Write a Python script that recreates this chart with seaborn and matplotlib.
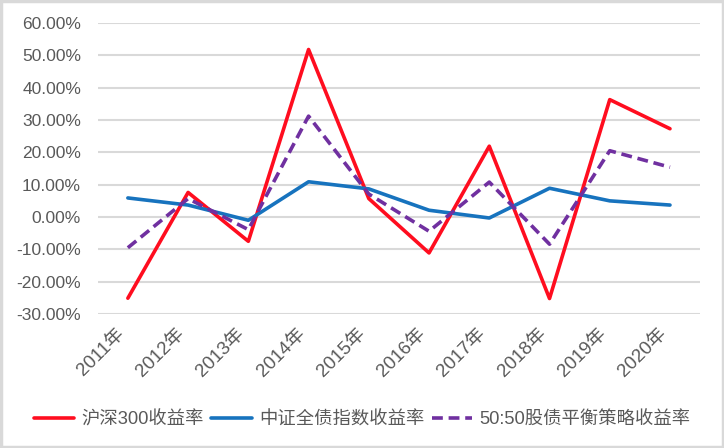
import matplotlib
matplotlib.use("Agg")
import matplotlib.pyplot as plt
import seaborn as sns
import pandas as pd
from matplotlib.ticker import FuncFormatter
from matplotlib.patches import Rectangle
from matplotlib.lines import Line2D

years = ["2011年", "2012年", "2013年", "2014年", "2015年", "2016年", "2017年", "2018年", "2019年", "2020年"]
hs300 = [-25.1, 7.6, -7.5, 51.8, 5.7, -11.1, 21.9, -25.2, 36.3, 27.3]
bond = [5.9, 3.7, -1.0, 10.9, 8.7, 2.1, -0.3, 8.9, 5.0, 3.7]
balanced = [-9.5, 5.7, -3.9, 31.2, 7.1, -4.4, 10.8, -8.4, 20.5, 15.4]
names = ["沪深300收益率", "中证全债指数收益率", "50:50股债平衡策略收益率"]

sns.set_theme(style="white")
plt.rcParams['font.family'] = ['Liberation Sans', 'Noto Sans CJK SC', 'DejaVu Sans']

df = pd.DataFrame({"year": years * 3,
                   "x": list(range(len(years))) * 3,
                   "value": hs300 + bond + balanced,
                   "series": [names[0]] * 10 + [names[1]] * 10 + [names[2]] * 10})

fig = plt.figure(figsize=(7.24, 4.48), dpi=100)
ax = fig.add_axes([0.135, 0.299, 0.832, 0.6497])

palette = {names[0]: "#FF0D1F", names[1]: "#1773BE", names[2]: "#7030A0"}
dashes = {names[0]: "", names[1]: "", names[2]: (3, 1.6)}
sns.lineplot(data=df, x="x", y="value", hue="series", style="series",
             palette=palette, dashes=dashes, linewidth=2.6, ax=ax, legend=False,
             hue_order=names, style_order=names)

ax.set_xlim(-0.5, 9.5)
ax.set_ylim(-30, 60)
ax.set_yticks(range(-30, 61, 10))
ax.yaxis.set_major_formatter(FuncFormatter(lambda v, p: f"{v:.2f}%"))
ax.set_xticks(range(len(years)))
ax.set_xticklabels(years, rotation=45, ha="right")
ax.grid(axis="y", color="#D9D9D9", linewidth=1.5)
ax.set_axisbelow(True)
for s in ax.spines.values():
    s.set_visible(False)
ax.set_xlabel("")
ax.set_ylabel("")
ax.tick_params(axis="y", labelsize=12.5, labelcolor="#595959", length=0, pad=12)
ax.tick_params(axis="x", labelsize=13.5, labelcolor="#595959", length=0, pad=8)

hl = [Line2D([], [], color=palette[n], linewidth=2.6,
             linestyle=("-" if i < 2 else (0, (3, 1.6)))) for i, n in enumerate(names)]
leg = fig.legend(hl, names, loc="center", bbox_to_anchor=(0.5, 1 - 420 / 448),
                 ncol=3, frameon=False, fontsize=13.2, handlelength=2.2,
                 handletextpad=0.4, columnspacing=0.4, labelcolor="#595959")

fig.patches.append(Rectangle((0.002, 0.003), 0.996, 0.994, transform=fig.transFigure,
                             fill=False, edgecolor="#D9D9D9", linewidth=2.5))
fig.savefig("out.png", dpi=100)
